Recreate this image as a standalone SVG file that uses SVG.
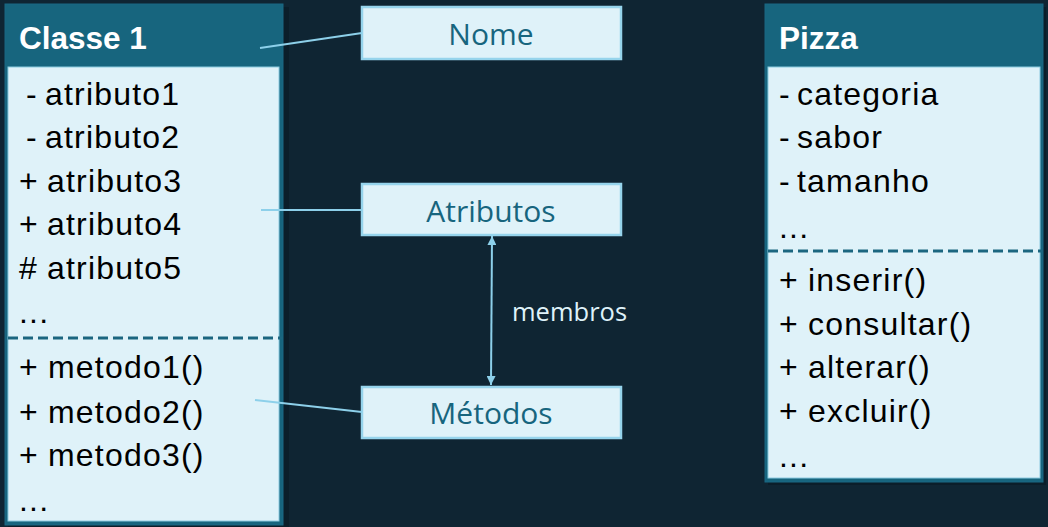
<svg xmlns="http://www.w3.org/2000/svg" width="1048" height="527" viewBox="0 0 1048 527">
<defs>
<style>
.bg{fill:#0f2533}
.shadow{fill:#0b1e2a}
.outer{fill:#17657e;stroke:#1a6984;stroke-width:1}
.body{fill:#dff2f9;stroke:#8ccbe0;stroke-width:1}
.dash{stroke:#1b6680;stroke-width:3;stroke-dasharray:10 5;fill:none}
.title{font-family:"Liberation Sans",Arial,sans-serif;font-size:31.5px;font-weight:bold;fill:#ffffff}
.item{font-family:"Liberation Sans",Arial,sans-serif;font-size:32px;fill:#000000;letter-spacing:1.2px}
.lbox{fill:#dff2f9;stroke:#96d4ec;stroke-width:2.5}
.ltext{font-family:"Open Sans","Noto Sans",sans-serif;font-size:30px;fill:#17657e;text-anchor:middle}
.conn{stroke:#8dd0ea;stroke-width:2;fill:none}
.mlabel{font-family:"Open Sans","Noto Sans",sans-serif;font-size:25.5px;fill:#dff2f9}
</style>
<marker id="arr" viewBox="0 0 10 10" refX="10" refY="5" markerWidth="9" markerHeight="9" markerUnits="userSpaceOnUse" orient="auto-start-reverse">
<path d="M0,0 L10,5 L0,10 Z" fill="#8dd0ea"/>
</marker>
</defs>
<rect class="bg" x="0" y="0" width="1048" height="527"/>

<g id="classe1">
<rect class="shadow" x="8" y="7" width="281" height="521"/>
<rect class="outer" x="5" y="4" width="278" height="521"/>
<rect class="body" x="8" y="67" width="271" height="454"/>
<line class="dash" x1="8" y1="338" x2="283" y2="338"/>
<text class="title" x="19" y="49">Classe 1</text>
<text class="item" x="26" y="105">-<tspan x="45">atributo1</tspan></text>
<text class="item" x="26" y="148">-<tspan x="45">atributo2</tspan></text>
<text class="item" x="19" y="192">+<tspan x="47">atributo3</tspan></text>
<text class="item" x="19" y="235">+<tspan x="47">atributo4</tspan></text>
<text class="item" x="19" y="279">#<tspan x="47">atributo5</tspan></text>
<text class="item" x="19" y="323">...</text>
<text class="item" x="19" y="378">+<tspan x="48">metodo1()</tspan></text>
<text class="item" x="19" y="423">+<tspan x="48">metodo2()</tspan></text>
<text class="item" x="19" y="466">+<tspan x="48">metodo3()</tspan></text>
<text class="item" x="19" y="511">...</text>
</g>

<g id="pizza">
<rect class="shadow" x="768" y="7" width="278" height="478"/>
<rect class="outer" x="765" y="4" width="278" height="478"/>
<rect class="body" x="768" y="67" width="272" height="411"/>
<line class="dash" x1="768" y1="251" x2="1043" y2="251"/>
<text class="title" x="779" y="49">Pizza</text>
<text class="item" x="779" y="105">-<tspan x="797">categoria</tspan></text>
<text class="item" x="779" y="148">-<tspan x="797">sabor</tspan></text>
<text class="item" x="779" y="192">-<tspan x="797">tamanho</tspan></text>
<text class="item" x="779" y="238">...</text>
<text class="item" x="779" y="291">+<tspan x="808">inserir()</tspan></text>
<text class="item" x="779" y="335">+<tspan x="808">consultar()</tspan></text>
<text class="item" x="779" y="378">+<tspan x="808">alterar()</tspan></text>
<text class="item" x="779" y="422">+<tspan x="808">excluir()</tspan></text>
<text class="item" x="779" y="467">...</text>
</g>

<g id="nome">
<rect class="lbox" x="362" y="7" width="259" height="52"/>
<text class="ltext" x="491" y="45">Nome</text>
</g>

<g id="atributos">
<rect class="lbox" x="362" y="184" width="259" height="51"/>
<text class="ltext" x="491" y="222">Atributos</text>
</g>

<g id="metodos">
<rect class="lbox" x="362" y="387" width="259" height="51"/>
<text class="ltext" x="491" y="424">Métodos</text>
</g>

<g id="connectors">
<line class="conn" x1="260" y1="48" x2="362" y2="33"/>
<line class="conn" x1="261" y1="210" x2="362" y2="210"/>
<line class="conn" x1="255" y1="400" x2="362" y2="412"/>
<line class="conn" x1="492" y1="236" x2="491" y2="385" marker-start="url(#arr)" marker-end="url(#arr)"/>
<text class="mlabel" x="512" y="321">membros</text>
</g>
</svg>
